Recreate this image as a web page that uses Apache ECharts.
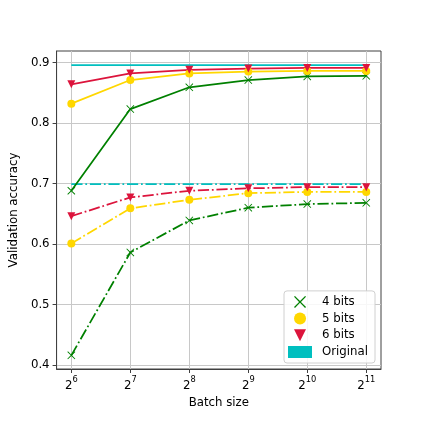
<!DOCTYPE html>
<html>
<head>
<meta charset="utf-8">
<script src="https://cdn.jsdelivr.net/npm/echarts@6/dist/echarts.min.js"></script>
<style>html,body{margin:0;padding:0;background:#fff}#c{width:423px;height:423px}</style>
</head>
<body>
<div id="c"></div>
<script>
// Batch size exponents (batch size = 2^x)
const exponents = [6, 7, 8, 9, 10, 11];
const yTicks = [0.4, 0.5, 0.6, 0.7, 0.8, 0.9];

// Solid lines (upper group)
const bits4Solid = [0.688, 0.823, 0.859, 0.871, 0.877, 0.878];
const bits5Solid = [0.832, 0.871, 0.882, 0.885, 0.886, 0.886];
const bits6Solid = [0.864, 0.882, 0.888, 0.890, 0.891, 0.891];
const originalSolid = 0.8955;

// Dash-dot lines (lower group)
const bits4Dash = [0.416, 0.586, 0.639, 0.660, 0.666, 0.668];
const bits5Dash = [0.601, 0.659, 0.673, 0.684, 0.686, 0.686];
const bits6Dash = [0.646, 0.677, 0.688, 0.692, 0.694, 0.694];
const originalDash = 0.699;

const GREEN = '#008000', GOLD = '#FFD700', RED = '#DC143C', CYAN = '#00BFBF';
const FONT = 'DejaVu Sans';
const LW = 1.75;
const DASHDOT = [11.2, 2.8, 1.75, 2.8];
const X_PATH = 'path://M0,0.8L0.8,0L5,4.2L9.2,0L10,0.8L5.8,5L10,9.2L9.2,10L5,5.8L0.8,10L0,9.2L4.2,5Z';
const TRI_PATH = 'path://M0,0L10,0L5,10Z';

const pairs = arr => exponents.map((e, i) => [e, arr[i]]);

function mk(name, data, color, symbol, size, dashed) {
  return {
    name: name,
    type: 'line',
    data: pairs(data),
    symbol: symbol,
    symbolSize: size,
    showSymbol: true,
    lineStyle: {color: color, width: LW, type: dashed ? DASHDOT : 'solid'},
    itemStyle: {color: color, borderWidth: 0, opacity: 1},
    emphasis: {disabled: true},
    animation: false,
    z: 3
  };
}
function flat(name, val, dashed) {
  return {
    name: name,
    type: 'line',
    data: [[6, val], [11, val]],
    symbol: 'none',
    lineStyle: {color: CYAN, width: LW, type: dashed ? DASHDOT : 'solid'},
    itemStyle: {color: CYAN},
    emphasis: {disabled: true},
    animation: false,
    z: 2
  };
}

const chart = echarts.init(document.getElementById('c'), null, {renderer: 'canvas'});
chart.setOption({
  backgroundColor: '#fff',
  animation: false,
  textStyle: {fontFamily: FONT},
  grid: {left: 53, right: 42, top: 51, bottom: 54, show: true, borderColor: '#404040', borderWidth: 1, backgroundColor: 'transparent'},
  xAxis: {
    type: 'value', min: 5.75, max: 11.25,
    name: 'Batch size', nameLocation: 'middle', nameGap: 24,
    nameTextStyle: {fontFamily: FONT, fontSize: 11.75, color: '#000'},
    axisLine: {show: true, lineStyle: {color: '#404040', width: 1}},
    axisTick: {show: true, length: 4, inside: false, customValues: exponents, lineStyle: {color: '#404040', width: 1}},
    axisLabel: {
      customValues: exponents, margin: 7,
      formatter: v => '{b|2}{s|' + v + '}',
      rich: {
        b: {fontFamily: FONT, fontSize: 11.75, color: '#000', lineHeight: 16, verticalAlign: 'bottom'},
        s: {fontFamily: FONT, fontSize: 8.3, color: '#000', lineHeight: 9, verticalAlign: 'top'}
      }
    },
    splitLine: {show: true, customValues: exponents, lineStyle: {color: '#c8c8c8', width: 1}}
  },
  yAxis: {
    type: 'value', min: 0.3934, max: 0.919,
    name: 'Validation accuracy', nameLocation: 'middle', nameGap: 33, nameRotate: 90,
    nameTextStyle: {fontFamily: FONT, fontSize: 11.75, color: '#000'},
    axisLine: {show: true, lineStyle: {color: '#404040', width: 1}},
    axisTick: {show: true, length: 4, inside: false, customValues: yTicks, lineStyle: {color: '#404040', width: 1}},
    axisLabel: {customValues: yTicks, margin: 7, fontFamily: FONT, fontSize: 11.75, color: '#000', formatter: v => v.toFixed(1)},
    splitLine: {show: true, customValues: yTicks, lineStyle: {color: '#c8c8c8', width: 1}}
  },
  legend: {
    orient: 'vertical', right: 48, bottom: 60,
    backgroundColor: 'rgba(255,255,255,0.85)', borderColor: '#d0d0d0', borderWidth: 1, borderRadius: 3,
    padding: [5, 7, 5, 4], itemGap: 4.7, itemWidth: 24, itemHeight: 12,
    textStyle: {fontFamily: FONT, fontSize: 11.75, color: '#000', padding: [0, 0, 0, 5]},
    data: [
      {name: '4 bits', icon: X_PATH},
      {name: '5 bits', icon: 'circle'},
      {name: '6 bits', icon: TRI_PATH},
      {name: 'Original', icon: 'rect'}
    ]
  },
  series: [
    flat('Original', originalSolid, false),
    flat('Original', originalDash, true),
    mk('4 bits', bits4Solid, GREEN, X_PATH, 8, false),
    mk('5 bits', bits5Solid, GOLD, 'circle', 8, false),
    mk('6 bits', bits6Solid, RED, TRI_PATH, 8, false),
    mk('4 bits', bits4Dash, GREEN, X_PATH, 8, true),
    mk('5 bits', bits5Dash, GOLD, 'circle', 8, true),
    mk('6 bits', bits6Dash, RED, TRI_PATH, 8, true)
  ]
});
</script>
</body>
</html>
